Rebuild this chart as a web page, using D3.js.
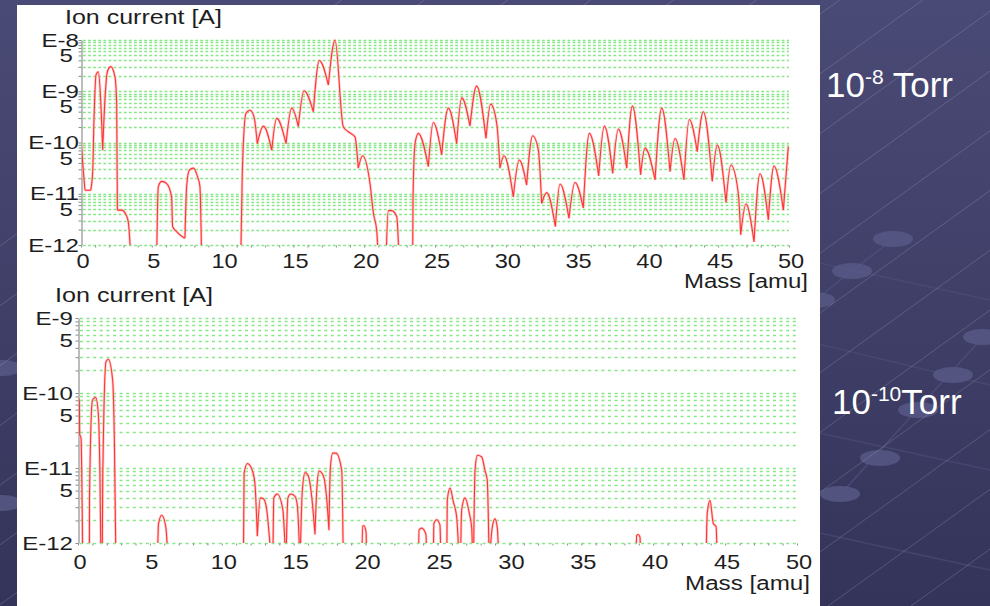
<!DOCTYPE html>
<html>
<head>
<meta charset="utf-8">
<script src="https://cdn.jsdelivr.net/npm/d3@7"></script>
<style>
  body { margin: 0; background: #3f3f68; }
  svg { display: block; font-family: "Liberation Sans", Arial, sans-serif; }
</style>
</head>
<body>
<div id="chart"></div>
<script>
// Data (mass in amu, ion current in A)
const massLabels = [0, 5, 10, 15, 20, 25, 30, 35, 40, 45, 50];
const highTicks = [1e-8, 5e-9, 1e-9, 5e-10, 1e-10, 5e-11, 1e-11, 5e-12, 1e-12];
const highTickLabels = ["E-8", "5", "E-9", "5", "E-10", "5", "E-11", "5", "E-12"];
const lowTicks = [1e-9, 5e-10, 1e-10, 5e-11, 1e-11, 5e-12, 1e-12];
const lowTickLabels = ["E-9", "5", "E-10", "5", "E-11", "5", "E-12"];
const BELOW = 5e-13; // trace runs under the axis here

// 10^-8 Torr
const spectrumHigh = [
  [0, 1.2e-10], [0.12, 4.0e-11], [0.28, 1.17e-11], [0.68, 1.17e-11], [0.82, 2.5e-11],
  [0.92, 2.95e-10], [1.06, 2.09e-9], [1.22, 2.4e-9], [1.39, 6.76e-10], [1.53, 7.08e-11],
  [1.69, 6.76e-10], [1.86, 2.4e-9], [2.1, 3.02e-9], [2.4, 1.9e-9], [2.52, 5.75e-10],
  [2.57, 4.79e-12], [2.87, 4.79e-12], [3.18, 3.89e-12], [3.34, 2.82e-12], [3.53, BELOW],
  [5.34, BELOW], [5.46, 1.38e-11], [5.7, 1.74e-11], [6.05, 1.58e-11], [6.4, 8.7e-12],
  [6.47, 2.29e-12], [6.75, 1.82e-12], [7.22, 1.41e-12], [7.34, 1.35e-12], [7.46, 1.38e-11],
  [7.65, 2.88e-11], [7.93, 3.16e-11], [8.21, 2.24e-11], [8.4, 1.38e-11], [8.52, BELOW],
  [11.28, BELOW], [11.39, 2.5e-11], [11.65, 3.72e-10], [11.93, 4.27e-10], [12.22, 3.16e-10],
  [12.45, 9.5e-11], [12.88, 2.09e-10], [13.47, 7.08e-11], [13.82, 2.95e-10], [14.48, 9.5e-11],
  [14.88, 4.68e-10], [15.35, 2.04e-10], [15.75, 1.02e-9], [16.41, 3.98e-10], [16.83, 3.98e-9],
  [17.47, 1.32e-9], [17.94, 1.0e-8], [18.52, 2.04e-10], [18.88, 1.62e-10], [19.35, 1.29e-10],
  [19.58, 3.16e-11], [19.89, 5.5e-11], [20.41, 1.58e-11], [20.65, 4.17e-12], [20.88, 1.95e-12],
  [21.0, BELOW], [21.54, BELOW], [21.7, 4.68e-12], [21.94, 4.68e-12], [22.3, 3.55e-12],
  [22.46, BELOW], [23.42, BELOW], [23.45, 8.7e-12], [23.59, 9.5e-11], [23.82, 1.51e-10],
  [24.53, 3.39e-11], [24.88, 2.45e-10], [25.47, 5.75e-11], [25.94, 4.68e-10], [26.53, 9.5e-11],
  [26.89, 7.41e-10], [27.47, 2.09e-10], [27.94, 1.26e-9], [28.6, 1.2e-10], [28.93, 5.62e-10],
  [29.36, 2.34e-10], [29.59, 3.16e-11], [29.87, 5.5e-11], [30.53, 8.7e-12], [30.95, 4.57e-11],
  [31.47, 1.48e-11], [31.9, 1.35e-10], [32.3, 7.08e-11], [32.53, 6.46e-12], [32.89, 1.05e-11],
  [33.5, 2.29e-12], [33.83, 1.55e-11], [34.46, 3.31e-12], [34.89, 1.66e-11], [35.47, 5.25e-12],
  [35.9, 1.51e-10], [36.56, 2.24e-11], [36.96, 2.09e-10], [37.55, 2.5e-11], [37.95, 1.82e-10],
  [38.54, 3.16e-11], [38.94, 5.13e-10], [39.52, 2.34e-11], [39.83, 7.76e-11], [40.54, 1.86e-11],
  [41.01, 4.68e-10], [41.6, 2.69e-11], [41.95, 1.2e-10], [42.58, 1.86e-11], [42.96, 2.82e-10],
  [43.52, 6.61e-11], [43.95, 3.98e-10], [44.58, 1.74e-11], [44.94, 8.91e-11], [45.55, 6.76e-12],
  [45.9, 3.63e-11], [46.42, 1.02e-11], [46.59, 1.58e-12], [46.96, 6.31e-12], [47.53, 1.15e-12],
  [47.95, 2.45e-11], [48.54, 3.09e-12], [48.94, 3.47e-11], [49.6, 4.79e-12], [49.95, 8.32e-11]
];

// 10^-10 Torr
const spectrumLow = [
  [0, 8.9e-11], [0.09, 7.9e-11], [0.12, 2.8e-11], [0.21, 2.5e-11], [0.33, BELOW],
  [0.79, BELOW], [0.8, 4.0e-12], [1.0, 7.9e-11], [1.11, 8.5e-11], [1.23, 8.7e-11],
  [1.41, 5.4e-11], [1.53, 6.9e-12], [1.6, BELOW], [1.68, BELOW], [1.72, 6.9e-12],
  [1.95, 2.63e-10], [2.11, 2.82e-10], [2.41, 1.48e-10], [2.53, 2.34e-11], [2.64, BELOW],
  [5.52, BELOW], [5.6, 1.8e-12], [5.82, 2.34e-12], [6.1, 1.66e-12], [6.28, BELOW],
  [11.5, BELOW], [11.55, 8.5e-12], [11.78, 1.15e-11], [12.12, 9.3e-12], [12.3, 6.3e-12],
  [12.47, 1.23e-12], [12.68, 4.0e-12], [12.89, 3.9e-12], [13.1, 3.0e-12], [13.3, 1.26e-12],
  [13.47, BELOW], [13.55, BELOW], [13.62, 4.0e-12], [13.86, 4.5e-12], [14.23, 2.9e-12],
  [14.46, BELOW], [14.6, 4.0e-12], [14.79, 4.5e-12], [15.09, 4.2e-12], [15.25, 3.2e-12],
  [15.44, BELOW], [15.6, 5.0e-12], [15.79, 8.7e-12], [16.01, 7.9e-12], [16.25, 4.2e-12],
  [16.48, 1.3e-12], [16.6, 5.0e-12], [16.76, 9.1e-12], [17.06, 7.9e-12], [17.29, 4.0e-12],
  [17.45, 1.48e-12], [17.55, 1.0e-11], [17.71, 1.58e-11], [17.94, 1.58e-11], [18.34, 9.3e-12],
  [18.45, BELOW], [19.73, BELOW], [19.8, 1.7e-12], [19.89, 1.7e-12], [20.03, 1.41e-12],
  [20.08, BELOW], [23.67, BELOW], [23.72, 1.5e-12], [23.9, 1.58e-12], [24.2, 1.3e-12],
  [24.25, BELOW], [24.71, BELOW], [24.75, 1.82e-12], [24.94, 2.04e-12], [25.17, 1.74e-12],
  [25.24, BELOW], [25.64, BELOW], [25.68, 3.7e-12], [25.87, 5.4e-12], [26.1, 3.55e-12],
  [26.33, 2.24e-12], [26.52, BELOW], [26.6, BELOW], [26.68, 2.75e-12], [26.91, 4.0e-12],
  [27.21, 2.5e-12], [27.38, 1.58e-12], [27.45, BELOW], [27.5, BELOW], [27.61, 9.3e-12],
  [27.77, 1.48e-11], [28.07, 1.41e-11], [28.3, 9.3e-12], [28.46, 6.9e-12], [28.53, 2.5e-12],
  [28.6, BELOW], [28.8, 1.58e-12], [29.0, 2.1e-12], [29.16, 1.58e-12], [29.28, BELOW],
  [38.8, BELOW], [38.85, 1.26e-12], [38.96, 1.3e-12], [39.08, 1.2e-12], [39.13, BELOW],
  [43.67, BELOW], [43.76, 2.5e-12], [43.95, 3.7e-12], [44.18, 1.82e-12], [44.37, 1.66e-12],
  [44.46, BELOW], [50, BELOW]
];

const svgWidth = 990;
const svgHeight = 606;

const svg = d3.select("#chart")
  .append("svg")
  .attr("width", svgWidth)
  .attr("height", svgHeight);

const defs = svg.append("defs");

// Slide background
const bg = defs.append("linearGradient")
  .attr("id", "slide-bg")
  .attr("x1", "0%").attr("y1", "0%")
  .attr("x2", "0%").attr("y2", "100%");
bg.append("stop").attr("offset", "0%").attr("stop-color", "#4a4a76");
bg.append("stop").attr("offset", "100%").attr("stop-color", "#34345a");

svg.append("rect")
  .attr("width", svgWidth)
  .attr("height", svgHeight)
  .attr("fill", "url(#slide-bg)");

// faint perspective grid + dots
const deco = svg.append("g");
[[760, 250, 990, 300], [760, 330, 990, 385], [760, 420, 990, 470], [760, 520, 990, 570]].forEach(l => {
  deco.append("line")
    .attr("x1", l[0]).attr("y1", l[1]).attr("x2", l[2]).attr("y2", l[3])
    .attr("stroke", "#52527f").attr("stroke-width", 1.5).attr("opacity", 0.5);
});
[[815, 300, 893, 239], [838, 497, 983, 337]].forEach(l => {
  deco.append("line")
    .attr("x1", l[0]).attr("y1", l[1]).attr("x2", l[2]).attr("y2", l[3])
    .attr("stroke", "#55558a").attr("stroke-width", 1.5).attr("opacity", 0.6);
});
[[893, 239], [852, 271], [815, 300], [983, 337], [953, 375], [918, 410], [880, 458], [840, 494], [2, 368], [2, 503]]
  .forEach(p => {
    deco.append("ellipse")
      .attr("cx", p[0]).attr("cy", p[1])
      .attr("rx", 20).attr("ry", 8)
      .attr("fill", "#585886")
      .attr("opacity", 0.85);
  });

// thin diagonal lines
for (let x0 = -500; x0 < svgWidth + 100; x0 += 83) {
  deco.append("line")
    .attr("x1", x0).attr("y1", svgHeight)
    .attr("x2", x0 + svgHeight / 0.72).attr("y2", 0)
    .attr("stroke", "#b8b8dc")
    .attr("stroke-width", 0.7)
    .attr("opacity", 0.35);
}

// white picture area
svg.append("rect")
  .attr("x", 17).attr("y", 5)
  .attr("width", 803).attr("height", 601)
  .attr("fill", "#ffffff");

const panels = [
  {
    id: "high", data: spectrumHigh, ticks: highTicks, tickLabels: highTickLabels,
    domain: [1e-12, 1e-8], left: 81, right: 789, top: 40, bottom: 245,
    dash: "2.8,2.3", labelEnd: [79, 73],
    title: { x: 65, y: 24, len: 157 }, xlabBase: 268, mass: { x: 808, y: 288, len: 124 }
  },
  {
    id: "low", data: spectrumLow, ticks: lowTicks, tickLabels: lowTickLabels,
    domain: [1e-12, 1e-9], left: 78, right: 797, top: 318, bottom: 543,
    dash: "3,3.6", labelEnd: [73, 73],
    title: { x: 55, y: 302, len: 158 }, xlabBase: 569, mass: { x: 810, y: 590, len: 125 }
  }
];

// split a trace at its local minima so every hump is its own monotone piece
// (gives rounded tops and sharp notches like the instrument plot)
function humps(data) {
  const parts = [];
  let cur = [data[0]];
  for (let i = 1; i < data.length; i++) {
    cur.push(data[i]);
    const prev = data[i - 1][1], next = i + 1 < data.length ? data[i + 1][1] : Infinity;
    if (data[i][1] <= prev && data[i][1] <= next && i < data.length - 1) {
      parts.push(cur);
      cur = [data[i]];
    }
  }
  if (cur.length > 1) parts.push(cur);
  return parts;
}

panels.forEach(p => {
  const x = d3.scaleLinear().domain([0, 50]).range([p.left, p.right]);
  const y = d3.scaleLog().domain(p.domain).range([p.bottom, p.top]);
  const g = svg.append("g").attr("class", "panel-" + p.id);

  // Grid (green dotted, 1..9 per decade)
  g.append("g")
    .selectAll("line")
    .data(y.ticks())
    .join("line")
    .attr("x1", p.left + 2)
    .attr("x2", p.right)
    .attr("y1", d => Math.round(y(d)) + 0.5)
    .attr("y2", d => Math.round(y(d)) + 0.5)
    .attr("stroke", "#86e886")
    .attr("stroke-width", 1.5)
    .attr("stroke-dasharray", p.dash);

  // x axis minor ticks
  const xAxis = g.append("g")
    .attr("transform", `translate(0, ${Math.round(y(p.domain[0])) + 0.5})`)
    .call(d3.axisBottom(x).tickValues(x.ticks(50)).tickSize(2).tickSizeOuter(0).tickFormat(""));
  xAxis.select(".domain").remove();
  xAxis.selectAll(".tick line").attr("stroke", "#8a8a8a");

  // y axis
  const yAxis = g.append("g")
    .attr("transform", `translate(${p.left + 0.5}, 0)`)
    .call(d3.axisLeft(y).tickValues(y.ticks()).tickSize(3).tickSizeOuter(0).tickFormat(""));
  yAxis.select(".domain").attr("stroke", "#7a7a7a");
  yAxis.selectAll(".tick line").attr("stroke", "#8a8a8a");

  // y tick labels
  g.append("g")
    .selectAll("text")
    .data(p.ticks)
    .join("text")
    .attr("transform", (d, i) => `translate(${p.labelEnd[i % 2]}, ${y(d)}) scale(1.3,1)`)
    .attr("text-anchor", "end")
    .attr("dy", "0.36em")
    .attr("font-size", 18.5)
    .attr("fill", "#1e1e1e")
    .text((d, i) => p.tickLabels[i]);

  // x tick labels
  g.append("g")
    .selectAll("text")
    .data(massLabels)
    .join("text")
    .attr("transform", d => `translate(${x(d) + 2}, ${p.xlabBase}) scale(1.18,1)`)
    .attr("text-anchor", "middle")
    .attr("font-size", 20)
    .attr("fill", "#1e1e1e")
    .text(d => d);

  // titles
  g.append("text")
    .attr("x", p.title.x).attr("y", p.title.y)
    .attr("font-size", 19.5)
    .attr("fill", "#1e1e1e")
    .attr("textLength", p.title.len)
    .attr("lengthAdjust", "spacingAndGlyphs")
    .text("Ion current [A]");

  g.append("text")
    .attr("x", p.mass.x - p.mass.len).attr("y", p.mass.y)
    .attr("font-size", 19.5)
    .attr("fill", "#1e1e1e")
    .attr("textLength", p.mass.len)
    .attr("lengthAdjust", "spacingAndGlyphs")
    .text("Mass [amu]");

  // spectrum trace
  defs.append("clipPath")
    .attr("id", "clip-" + p.id)
    .append("rect")
    .attr("x", p.left + 1)
    .attr("y", p.top - 4)
    .attr("width", p.right - p.left + 2)
    .attr("height", Math.round(y(p.domain[0])) - p.top + 4);

  const line = d3.line()
    .x(d => x(d[0]))
    .y(d => y(d[1]))
    .curve(d3.curveMonotoneX);
  const pathD = humps(p.data).map(line).join("");

  const trace = g.append("g").attr("clip-path", `url(#clip-${p.id})`);
  trace.append("path")
    .attr("d", pathD)
    .attr("fill", "none")
    .attr("stroke", "#ffb4b4")
    .attr("stroke-width", 2.6)
    .attr("stroke-linejoin", "round")
    .attr("opacity", 0.7);
  trace.append("path")
    .attr("d", pathD)
    .attr("fill", "none")
    .attr("stroke", "#ff3434")
    .attr("stroke-linejoin", "round")
    .attr("stroke-width", 1.1);
});

// pressure captions
const captions = [
  { x: 826, y: 97, base: "10", exp: "-8", unit: " Torr" },
  { x: 832, y: 414, base: "10", exp: "-10", unit: "Torr" }
];
captions.forEach(c => {
  const t = svg.append("text")
    .attr("x", c.x).attr("y", c.y)
    .attr("fill", "#ffffff")
    .attr("font-size", 35);
  t.append("tspan").text(c.base);
  t.append("tspan").attr("font-size", 21).attr("dy", -13).text(c.exp);
  t.append("tspan").attr("dy", 13).text(c.unit);
});
</script>
</body>
</html>
